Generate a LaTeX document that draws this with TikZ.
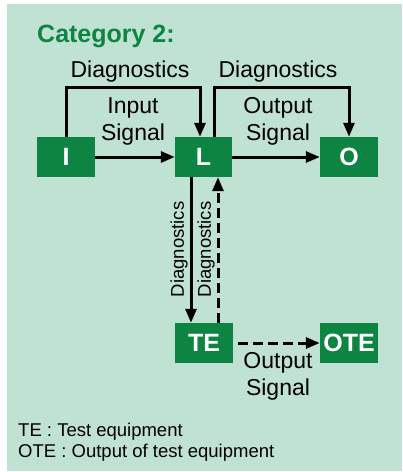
\documentclass[tikz,border=0pt]{standalone}
\usepackage{fontspec}
\setmainfont{Liberation Sans}
\usetikzlibrary{arrows.meta}
\definecolor{panel}{RGB}{192,226,210}
\definecolor{boxgreen}{RGB}{14,132,67}
\begin{document}
\begin{tikzpicture}[x=1pt,y=-1pt,
  blk/.style={fill=boxgreen,text=white,font=\fontsize{25}{29}\selectfont\bfseries,inner sep=0pt,minimum width=58pt,minimum height=40pt},
  lbl/.style={font=\fontsize{23}{27}\selectfont,inner sep=0pt,anchor=base},
  vlbl/.style={font=\fontsize{18.5}{22}\selectfont,inner sep=0pt,rotate=90},
  leg/.style={font=\fontsize{18.5}{22}\selectfont,inner sep=0pt,anchor=base west},
  arr/.style={line width=3pt,-{Triangle[length=14pt,width=11pt]}},
  dsh/.style={dash pattern=on 10pt off 5pt}
]
\useasboundingbox (0,0) rectangle (403,472);
\fill[panel] (7,4) rectangle (402,471);

\node[anchor=base west,inner sep=0pt,font=\fontsize{25}{30}\selectfont\bfseries,text=boxgreen] (title) at (37,42) {Category 2:};

\node[blk] (I) at (66,157) {I};
\node[blk,minimum width=57pt] (L) at (203.5,157) {L};
\node[blk] (O) at (349,157) {O};
\node[blk] (TE) at (204,343) {TE};
\node[blk] (OTE) at (349,343) {OTE};

\draw[arr] (I.east) -- (L.west);
\draw[arr] (L.east) -- (O.west);
\draw[arr] (I.north) -- ++(0,-49) -| ([xshift=-3.5pt]L.north);
\draw[arr] ([xshift=10.5pt]L.north) -- ++(0,-49) -| (O.north);
\draw[arr] ([xshift=-12.5pt]L.south) -- ([xshift=-12.5pt]L.south |- TE.north);
\draw[arr,dsh] ([xshift=14pt]TE.north) -- ([xshift=14pt]TE.north |- L.south);
\draw[arr,dsh,shorten <=5pt] (TE.east) -- (OTE.west);

\node[lbl] (d1) at (130,77) {Diagnostics};
\node[lbl] (d2) at (278,77) {Diagnostics};
\node[lbl] (in1) at (133,113) {Input};
\node[lbl] (in2) at (133,140) {Signal};
\node[lbl] (out1) at (278,113) {Output};
\node[lbl] (out2) at (278,140) {Signal};
\node[vlbl] (d3) at (179,249.5) {Diagnostics};
\node[vlbl] (d4) at (206,249.5) {Diagnostics};
\node[lbl] (out3) at (278,368) {Output};
\node[lbl] (out4) at (278,395) {Signal};

\node[leg] (leg1) at (18,436) {TE : Test equipment};
\node[leg] (leg2) at (18,457) {OTE : Output of test equipment};
\end{tikzpicture}
\end{document}
